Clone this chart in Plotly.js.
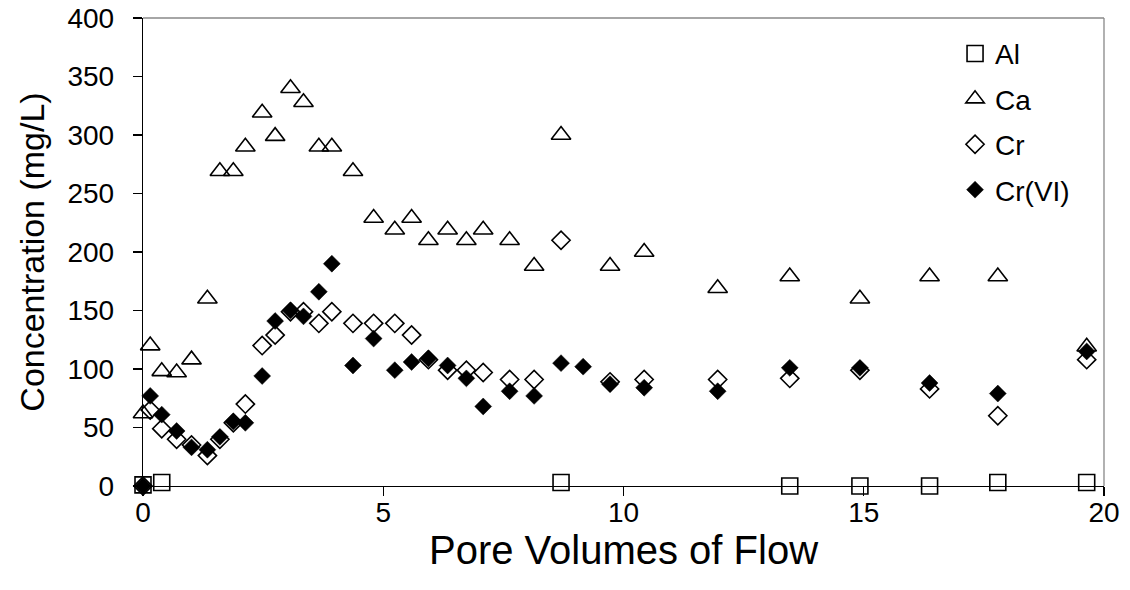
<!DOCTYPE html>
<html>
<head>
<meta charset="utf-8">
<script src="https://cdn.plot.ly/plotly-3.0.1.min.js"></script>
<style>
html,body{margin:0;padding:0;background:#fff;}
#chart{width:1130px;height:590px;}
</style>
</head>
<body>
<div id="chart"></div>
<script>
// Pore volumes of flow (x) for Ca, Cr, Cr(VI)
const poreVolumes = [0, 0.15, 0.39, 0.70, 1.01, 1.34, 1.60, 1.88, 2.13, 2.48, 2.75, 3.07, 3.34, 3.66, 3.93, 4.37, 4.80, 5.24, 5.59, 5.94, 6.34, 6.73, 7.08, 7.63, 8.14, 8.70, 9.16, 9.72, 10.43, 11.96, 13.46, 14.92, 16.37, 17.79, 19.64];
const caConc = [62, 120, 98, 97, 108, 160, 269, 269, 290, 319, 299, 340, 328, 290, 290, 269, 229, 219, 229, 210, 219, 210, 219, 210, 188, 300, null, 188, 200, 169, 179, 160, 179, 179, 119];
const crConc = [0, 65, 49, 40, 35, 26, 40, 54, 70, 120, 129, 149, 149, 139, 149, 139, 139, 139, 129, 108, 99, 99, 97, 91, 91, 210, null, 89, 91, 91, 92, 99, 83, 60, 108];
const cr6Conc = [0, 77, 61, 47, 33, 31, 42, 55, 54, 94, 141, 150, 145, 166, 190, 103, 126, 99, 106, 109, 103, 92, 68, 81, 77, 105, 102, 87, 84, 81, 101, 101, 88, 79, 115];
// Al measured at fewer points
const alPoreVolumes = [0, 0.39, 8.70, 13.46, 14.92, 16.37, 17.79, 19.64];
const alConc = [1, 3, 3, 0, 0, 0, 3, 3];

const FONT = "Liberation Sans, Arial, sans-serif";

const traces = [
  {name: 'Al', x: alPoreVolumes, y: alConc, type: 'scatter', mode: 'markers', legendgroup: 'a',
   cliponaxis: false,
   marker: {symbol: 'square-open', size: 16, color: '#000', line: {width: 1.6, color: '#000'}}},
  {name: 'Ca', x: poreVolumes, y: caConc, type: 'scatter', mode: 'markers', legendgroup: 'b',
   cliponaxis: false,
   marker: {symbol: 'triangle-up-open', size: 17, color: '#000', line: {width: 1.6, color: '#000'}}},
  {name: 'Cr', x: poreVolumes, y: crConc, type: 'scatter', mode: 'markers', legendgroup: 'c',
   cliponaxis: false,
   marker: {symbol: 'diamond-open', size: 14, color: '#000', line: {width: 1.6, color: '#000'}}},
  {name: 'Cr(VI)', x: poreVolumes, y: cr6Conc, type: 'scatter', mode: 'markers', legendgroup: 'd',
   cliponaxis: false,
   marker: {symbol: 'diamond', size: 13, color: '#000', line: {width: 0.5, color: '#000'}}}
];

const layout = {
  width: 1130, height: 590,
  margin: {l: 143, r: 26, t: 18, b: 104},
  paper_bgcolor: '#fff', plot_bgcolor: '#fff',
  font: {family: FONT, size: 28, color: '#000'},
  showlegend: true,
  legend: {x: 0.845, y: 0.977, xanchor: 'left', yanchor: 'top', bgcolor: 'rgba(0,0,0,0)',
           font: {family: FONT, size: 28, color: '#000'},
           traceorder: 'grouped', tracegroupgap: 6},
  xaxis: {range: [0, 20], dtick: 5, tick0: 0, showgrid: false, zeroline: false,
          showline: true, linecolor: '#000', linewidth: 1.3,
          ticks: 'outside', ticklen: 9, tickwidth: 1.2, tickcolor: '#000',
          ticklabelstandoff: -8,
          tickfont: {family: FONT, size: 28, color: '#000'},
          automargin: false,
          title: {text: 'Pore Volumes of Flow', font: {family: FONT, size: 40, color: '#000'}, standoff: 6}},
  yaxis: {range: [0, 400], dtick: 50, tick0: 0, showgrid: false, zeroline: false,
          showline: true, linecolor: '#000', linewidth: 1.3,
          ticks: 'outside', ticklen: 9, tickwidth: 1.2, tickcolor: '#000',
          ticklabelstandoff: 13,
          tickfont: {family: FONT, size: 28, color: '#000'},
          automargin: false,
          title: {text: 'Concentration (mg/L)', font: {family: FONT, size: 34, color: '#000'}, standoff: 12}},
  shapes: [
    {type: 'line', xref: 'paper', yref: 'paper', x0: 0, x1: 1, y0: 1, y1: 1, line: {color: '#888', width: 1.3}, layer: 'below'},
    {type: 'line', xref: 'paper', yref: 'paper', x0: 1, x1: 1, y0: 0, y1: 1, line: {color: '#888', width: 1.3}, layer: 'below'}
  ]
};

Plotly.newPlot('chart', traces, layout, {displayModeBar: false, staticPlot: true});
</script>
</body>
</html>
